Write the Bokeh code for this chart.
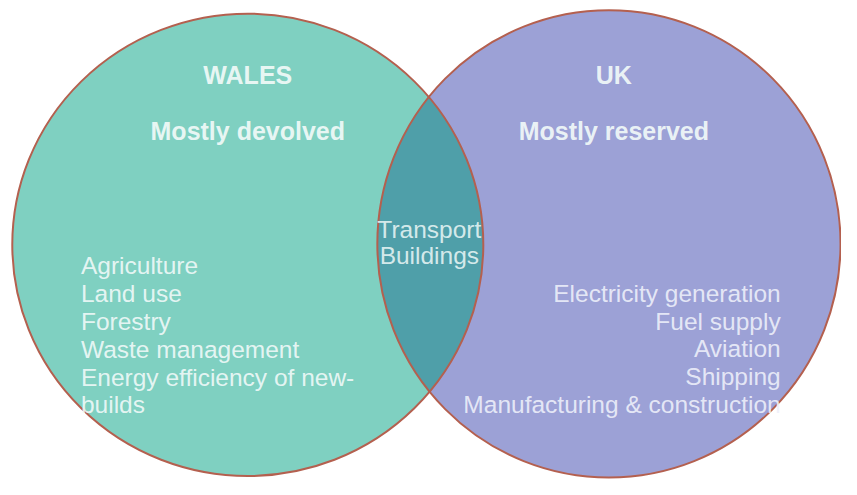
import numpy as np
from bokeh.plotting import figure
from bokeh.models import Range1d
from bokeh.embed import file_html
from bokeh.resources import INLINE
from bokeh.core.properties import value

# ---- data ----
set_names = ["WALES", "UK"]
set_subtitles = ["Mostly devolved", "Mostly reserved"]
wales_items = ["Agriculture", "Land use", "Forestry", "Waste management",
               "Energy efficiency of new-", "builds"]
uk_items = ["Electricity generation", "Fuel supply", "Aviation", "Shipping",
            "Manufacturing & construction"]
shared_items = ["Transport", "Buildings"]

# circle geometry (reference pixel space)
centers_x = [252, 620]
centers_y = [252.5, 251.5]
widths = [480, 472]
heights = [478, 483]
fills = ["#7fd0c1", "#9ca1d6"]
overlap_fill = "#4f9fa9"
outline = "#b4604f"

FONT = value("Liberation Sans")

p = figure(width=841, height=479, output_backend="svg", toolbar_location=None,
           x_range=Range1d(0, 857), y_range=Range1d(495, 0),
           min_border=0, outline_line_color=None, background_fill_color="white",
           border_fill_color="white")
p.axis.visible = False
p.grid.visible = False

# circles
p.ellipse(x=centers_x, y=centers_y, width=widths, height=heights,
          fill_color=fills, line_color=None)

# lens (intersection of the two ellipses)
def inside(px, py, i):
    return ((px - centers_x[i]) / (widths[i] / 2)) ** 2 + ((py - centers_y[i]) / (heights[i] / 2)) ** 2 <= 1.0

t1 = np.linspace(-np.pi, np.pi, 4000)
lx = centers_x[0] + widths[0] / 2 * np.cos(t1)
ly = centers_y[0] + heights[0] / 2 * np.sin(t1)
m1 = inside(lx, ly, 1)
t2 = np.linspace(0, 2 * np.pi, 4000)
rx = centers_x[1] + widths[1] / 2 * np.cos(t2)
ry = centers_y[1] + heights[1] / 2 * np.sin(t2)
m2 = inside(rx, ry, 0)
lens_x = np.concatenate([lx[m1], rx[m2]])
lens_y = np.concatenate([ly[m1], ry[m2]])
p.patch(lens_x, lens_y, fill_color=overlap_fill, line_color=None)

# outlines
p.ellipse(x=centers_x, y=centers_y, width=widths, height=heights,
          fill_color=None, line_color=outline, line_width=2)

txt_col = "#f2faf9"
# headers
p.text(x=[252, 625], y=[77, 77], text=set_names, text_font=FONT,
       text_font_size="25px", text_font_style="bold", text_color=txt_col,
       text_align="center", text_baseline="middle", text_alpha=0.92)
p.text(x=[252, 625], y=[135, 135], text=set_subtitles, text_font=FONT,
       text_font_size="25px", text_font_style="bold", text_color=txt_col,
       text_align="center", text_baseline="middle", text_alpha=0.92)

# wales list
wy = [274 + 28.8 * i for i in range(len(wales_items))]
p.text(x=[82] * len(wales_items), y=wy, text=wales_items, text_font=FONT,
       text_font_size="24.5px", text_color=txt_col, text_align="left",
       text_baseline="alphabetic", text_alpha=0.9)

# uk list
uy = [303 + 28.5 * i for i in range(len(uk_items))]
p.text(x=[795] * len(uk_items), y=uy, text=uk_items, text_font=FONT,
       text_font_size="24.5px", text_color="#eef0fa", text_align="right",
       text_baseline="alphabetic", text_alpha=0.9)

# shared
p.text(x=[437, 437], y=[237, 264], text=shared_items, text_font=FONT,
       text_font_size="24.5px", text_color="#e6f4f4", text_align="center",
       text_baseline="alphabetic", text_alpha=0.9)

open("out.html", "w").write(file_html(p, INLINE))
